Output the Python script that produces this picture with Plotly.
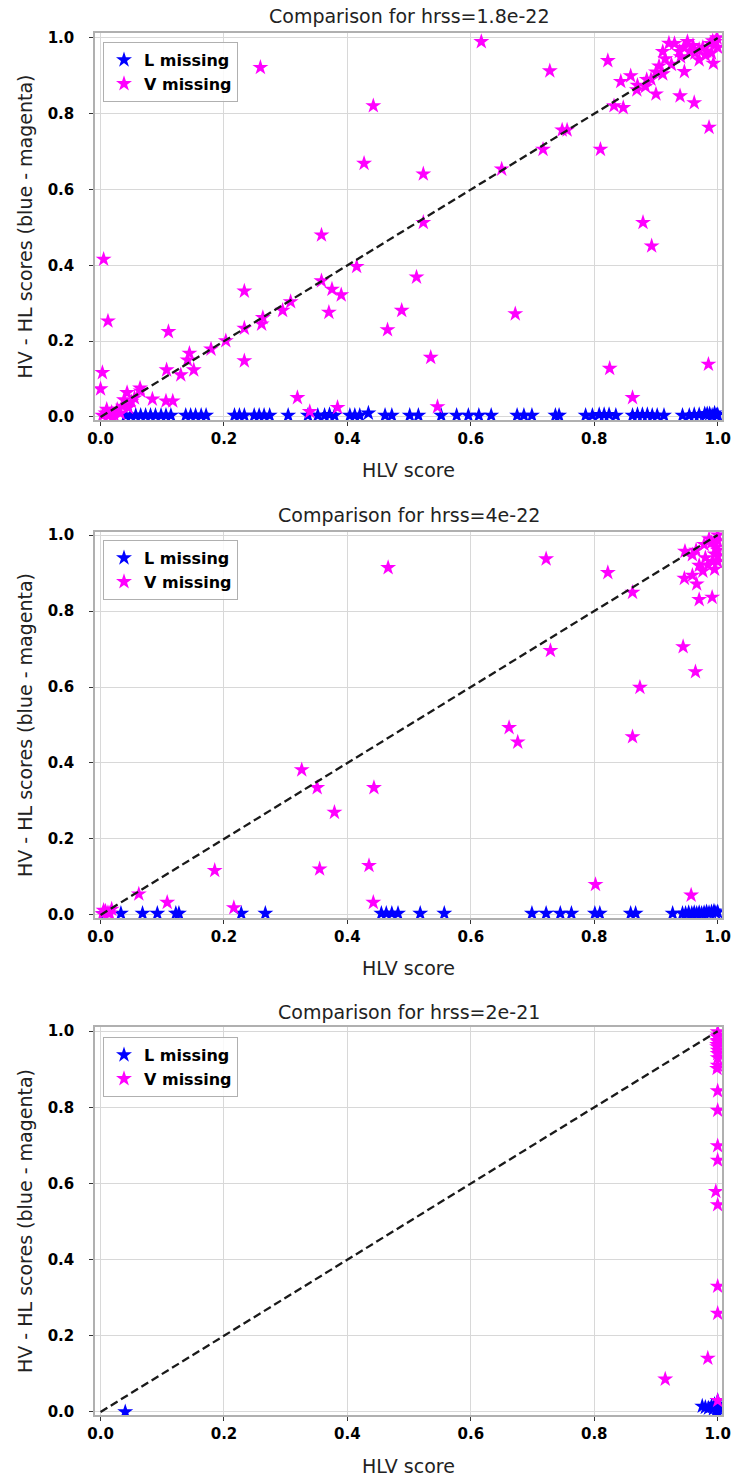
import plotly.graph_objects as go

# ---------------- data ----------------
titles = ["Comparison for hrss=1.8e-22", "Comparison for hrss=4e-22", "Comparison for hrss=2e-21"]
x_ticks = [0.0, 0.2, 0.4, 0.6, 0.8, 1.0]
x_ticklabels = ["0.0", "0.2", "0.4", "0.6", "0.8", "1.0"]
y_ticks = [0.0, 0.2, 0.4, 0.6, 0.8, 1.0]
y_ticklabels = ["0.0", "0.2", "0.4", "0.6", "0.8", "1.0"]

# Panel 1 (hrss=1.8e-22)
p1_v_x = [0.259, 0.442, 0.427, 0.358, 0.005, 0.415, 0.012, 0.233, 0.358, 0.375, 0.390, 0.370,
          0.308, 0.295, 0.263, 0.261, 0.233, 0.110, 0.203, 0.179, 0.144, 0.141, 0.151, 0.130,
          0.107, 0.233, 0.003, 0.000, 0.064, 0.065, 0.043, 0.038, 0.084, 0.106, 0.117, 0.319,
          0.339, 0.384,
          0.003, 0.008, 0.013, 0.018, 0.022, 0.027, 0.032, 0.036, 0.045, 0.050, 0.055, 0.020, 0.010,
          0.617, 0.728, 0.822, 0.523, 0.523, 0.650, 0.717, 0.748, 0.756, 0.810, 0.832, 0.847,
          0.843, 0.859, 0.869, 0.883, 0.892, 0.900, 0.905, 0.911, 0.921, 0.911, 0.938, 0.939,
          0.946, 0.951, 0.962, 0.963, 0.970, 0.976, 0.982, 0.988, 0.992, 0.996, 0.999, 0.993,
          0.986, 0.879, 0.893, 0.512, 0.488, 0.465, 0.672, 0.535, 0.546, 0.825, 0.862, 0.985,
          0.870, 0.885, 0.900, 0.925, 0.940, 0.955, 0.970, 0.980, 0.960, 0.930, 0.945, 1.000,
          0.990, 0.915]
p1_v_y = [0.922, 0.821, 0.669, 0.480, 0.416, 0.397, 0.253, 0.332, 0.359, 0.337, 0.322, 0.276,
          0.304, 0.281, 0.262, 0.245, 0.234, 0.225, 0.201, 0.179, 0.168, 0.150, 0.124, 0.111,
          0.124, 0.148, 0.117, 0.074, 0.076, 0.068, 0.064, 0.045, 0.047, 0.042, 0.042, 0.051,
          0.014, 0.025,
          0.004, 0.010, 0.003, 0.012, 0.006, 0.020, 0.010, 0.028, 0.025, 0.040, 0.050, 0.000, 0.020,
          0.990, 0.913, 0.940, 0.641, 0.513, 0.654, 0.706, 0.757, 0.757, 0.706, 0.821, 0.816,
          0.885, 0.900, 0.863, 0.872, 0.891, 0.852, 0.926, 0.964, 0.986, 0.905, 0.964, 0.847,
          0.911, 0.990, 0.829, 0.960, 0.942, 0.975, 0.965, 0.985, 0.992, 0.990, 1.000, 0.933,
          0.764, 0.513, 0.451, 0.369, 0.281, 0.230, 0.272, 0.157, 0.027, 0.128, 0.051, 0.139,
          0.875, 0.890, 0.910, 0.930, 0.950, 0.965, 0.970, 0.955, 0.980, 0.985, 0.975, 0.975,
          0.960, 0.945]
p1_l_x = [0.041, 0.049, 0.057, 0.065, 0.073, 0.081, 0.089, 0.098, 0.106, 0.114, 0.138, 0.146,
          0.154, 0.163, 0.171, 0.217, 0.225, 0.233, 0.249, 0.257, 0.265, 0.274, 0.304, 0.336,
          0.352, 0.363, 0.371, 0.379, 0.404, 0.412, 0.420, 0.434, 0.461, 0.472, 0.501, 0.515,
          0.552, 0.577, 0.596, 0.613, 0.633, 0.675, 0.686, 0.699, 0.737, 0.743, 0.786, 0.797,
          0.808, 0.816, 0.824, 0.835, 0.862, 0.870, 0.878, 0.886, 0.894, 0.902, 0.913, 0.943,
          0.954, 0.962, 0.970, 0.979, 0.987, 0.995, 1.000, 0.998, 0.991, 0.983]
p1_l_y = [0.004, 0.004, 0.004, 0.004, 0.004, 0.004, 0.004, 0.004, 0.004, 0.004, 0.004, 0.004,
          0.004, 0.004, 0.004, 0.004, 0.004, 0.004, 0.004, 0.004, 0.004, 0.004, 0.004, 0.004,
          0.004, 0.004, 0.006, 0.004, 0.004, 0.004, 0.004, 0.010, 0.004, 0.004, 0.004, 0.004,
          0.004, 0.004, 0.004, 0.004, 0.004, 0.004, 0.004, 0.004, 0.004, 0.004, 0.004, 0.004,
          0.006, 0.006, 0.006, 0.004, 0.004, 0.006, 0.006, 0.006, 0.004, 0.004, 0.004, 0.004,
          0.004, 0.006, 0.006, 0.008, 0.008, 0.010, 0.006, 0.004, 0.004, 0.008]

# Panel 2 (hrss=4e-22)
p2_v_x = [0.466, 0.326, 0.351, 0.443, 0.379, 0.355, 0.185, 0.435, 0.442, 0.062, 0.108, 0.216,
          0.003, 0.008, 0.012, 0.018, 0.005, 0.015,
          0.722, 0.822, 0.862, 0.729, 0.944, 0.964, 0.874, 0.662, 0.676, 0.862, 0.802, 0.957,
          0.947, 0.959, 0.946, 0.959, 0.966, 0.970, 0.991, 0.976, 0.984, 0.992, 0.995, 0.997,
          1.000, 0.986, 0.978, 1.000, 1.000, 1.000, 0.990, 0.970, 0.980, 0.995, 1.000, 0.965]
p2_v_y = [0.914, 0.382, 0.335, 0.335, 0.270, 0.121, 0.117, 0.130, 0.033, 0.055, 0.033, 0.019,
          0.003, 0.010, 0.006, 0.015, 0.012, 0.004,
          0.937, 0.901, 0.849, 0.696, 0.706, 0.640, 0.599, 0.493, 0.455, 0.469, 0.080, 0.052,
          0.957, 0.948, 0.886, 0.894, 0.871, 0.830, 0.836, 0.905, 0.921, 0.930, 0.950, 0.967,
          0.985, 0.990, 0.975, 1.000, 0.960, 0.930, 0.980, 0.920, 0.940, 0.910, 0.945, 0.960]
p2_l_x = [0.005, 0.033, 0.068, 0.092, 0.122, 0.127, 0.228, 0.267, 0.455, 0.463, 0.472, 0.482,
          0.518, 0.557, 0.699, 0.722, 0.745, 0.763, 0.801, 0.809, 0.859, 0.867, 0.927, 0.943,
          0.948, 0.953, 0.958, 0.962, 0.966, 0.970, 0.974, 0.978, 0.982, 0.986, 0.990, 0.994,
          0.997, 1.000]
p2_l_y = [0.003, 0.004, 0.004, 0.004, 0.004, 0.004, 0.004, 0.004, 0.004, 0.004, 0.004, 0.004,
          0.004, 0.004, 0.004, 0.004, 0.004, 0.004, 0.004, 0.004, 0.004, 0.004, 0.004, 0.004,
          0.004, 0.006, 0.004, 0.006, 0.004, 0.006, 0.004, 0.006, 0.008, 0.006, 0.008, 0.010,
          0.006, 0.008]

# Panel 3 (hrss=2e-21)
p3_v_x = [1.000, 0.999, 1.000, 0.999, 1.000, 0.999, 1.000, 1.000, 1.000, 1.000, 0.997, 1.000,
          1.000, 1.000, 1.000, 0.984, 0.915, 1.000, 1.000, 0.999, 1.000, 1.000, 1.000]
p3_v_y = [0.998, 0.985, 0.972, 0.959, 0.941, 0.902, 0.843, 0.792, 0.699, 0.661, 0.579, 0.544,
          0.330, 0.259, 0.030, 0.141, 0.086, 0.990, 0.975, 0.965, 0.950, 0.930, 0.910]
p3_l_x = [0.040, 0.975, 0.980, 0.985, 0.990, 0.995, 1.000, 1.000, 1.000, 1.000, 0.998, 0.993]
p3_l_y = [0.000, 0.015, 0.012, 0.010, 0.015, 0.020, 0.000, 0.010, 0.020, 0.030, 0.005, 0.008]

diag = [0.0, 1.0]

panels = [
    (p1_l_x, p1_l_y, p1_v_x, p1_v_y),
    (p2_l_x, p2_l_y, p2_v_x, p2_v_y),
    (p3_l_x, p3_l_y, p3_v_x, p3_v_y),
]

# ---------------- layout geometry ----------------
W, H = 733, 1481
ML, MR, MT, MB = 95, 11, 33, 66
PH = H - MT - MB  # paper height in px
PW = W - ML - MR


def py2paper(py):
    return 1 - (py - MT) / PH


panel_px = [(33, 420), (532, 918), (1027, 1415)]
title_py = [16, 515, 1012]
xlabel_py = [470, 968, 1466]
legend_py = [42, 540, 1037]
y_ranges = [[-0.008, 1.013], [-0.008, 1.008], [-0.008, 1.011]]

BLUE = "#0000ff"
MAGENTA = "#ff00ff"
FONT = "DejaVu Sans"

fig = go.Figure()
layout = dict(
    width=W, height=H,
    margin=dict(l=ML, r=MR, t=MT, b=MB, autoexpand=False),
    paper_bgcolor="white", plot_bgcolor="white",
    font=dict(family=FONT, color="black"),
    annotations=[],
)

for i, (lx, ly, vx, vy) in enumerate(panels):
    n = "" if i == 0 else str(i + 1)
    xa, ya = "x" + n, "y" + n
    leg = "legend" + n
    fig.add_trace(go.Scatter(x=lx, y=ly, mode="markers", name="L missing",
                             marker=dict(symbol="star", size=12, color=BLUE, line=dict(width=0)),
                             xaxis=xa, yaxis=ya, legend=leg))
    fig.add_trace(go.Scatter(x=vx, y=vy, mode="markers", name="V missing",
                             marker=dict(symbol="star", size=12, color=MAGENTA, line=dict(width=0)),
                             xaxis=xa, yaxis=ya, legend=leg))
    fig.add_trace(go.Scatter(x=diag, y=diag, mode="lines", showlegend=False,
                             line=dict(color="#1a1a1a", width=2.3, dash="8px,4px"),
                             xaxis=xa, yaxis=ya, hoverinfo="skip"))
    top, bot = panel_px[i]
    axis_common = dict(
        showgrid=True, gridcolor="#d8d8d8", gridwidth=1,
        showline=True, linecolor="#b0b0b0", linewidth=1.5, mirror=True,
        ticks="outside", ticklen=4, tickwidth=1, tickcolor="#333333",
        zeroline=False, automargin=False,
        tickfont=dict(family=FONT, size=15, color="black", weight="bold"),
    )
    layout["xaxis" + n] = dict(
        axis_common, domain=[0, 1], range=[-0.009, 1.007], anchor=ya,
        tickvals=x_ticks, ticktext=x_ticklabels,
    )
    layout["yaxis" + n] = dict(
        axis_common, domain=[py2paper(bot), py2paper(top)], range=y_ranges[i], anchor=xa,
        tickvals=y_ticks, ticktext=y_ticklabels, ticklabelstandoff=12,
    )
    layout[leg] = dict(
        x=(103 - ML) / PW, y=py2paper(legend_py[i]), xanchor="left", yanchor="top",
        bordercolor="#b0b0b0", borderwidth=1, bgcolor="rgba(255,255,255,0.85)",
        font=dict(family=FONT, size=16, color="black", weight="bold"),
    )
    layout["annotations"].append(dict(
        text=titles[i], x=0.5, y=py2paper(title_py[i]), xref="paper", yref="paper",
        showarrow=False, xanchor="center", yanchor="middle",
        font=dict(family=FONT, size=19, color="#222222"),
    ))
    layout["annotations"].append(dict(
        text="HLV score", x=0.5, y=py2paper(xlabel_py[i]), xref="paper", yref="paper",
        showarrow=False, xanchor="center", yanchor="middle",
        font=dict(family=FONT, size=19, color="#222222"),
    ))
    layout["annotations"].append(dict(
        text="HV - HL scores (blue - magenta)", x=(25 - ML) / PW,
        y=py2paper((top + bot) / 2), xref="paper", yref="paper",
        showarrow=False, xanchor="center", yanchor="middle", textangle=-90,
        font=dict(family=FONT, size=19, color="#222222"),
    ))

fig.update_layout(**layout)
fig.write_html(
    "out.html",
    config={"displayModeBar": False},
    post_script="document.body.style.margin='0';document.body.style.overflow='hidden';",
)
